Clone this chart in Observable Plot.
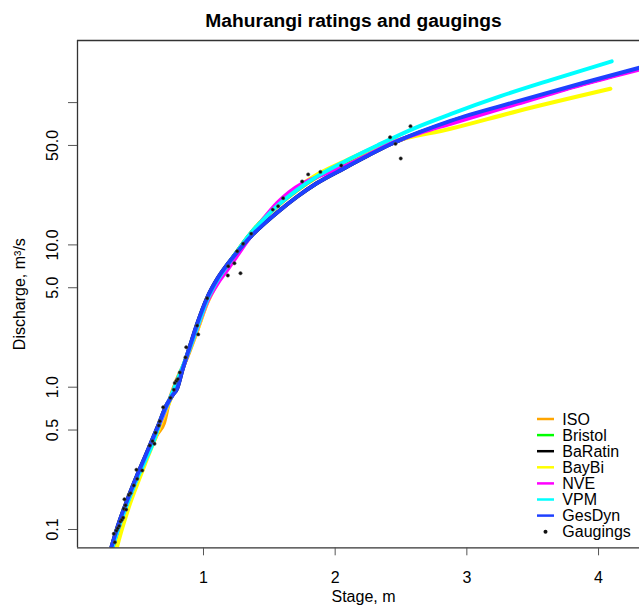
<!DOCTYPE html>
<html><head><meta charset="utf-8">
<script src="https://cdn.jsdelivr.net/npm/d3@7"></script>
<script src="https://cdn.jsdelivr.net/npm/@observablehq/plot@0.6"></script>
<style>
html,body{margin:0;padding:0;background:#fff;}
#chart{position:relative;width:639px;height:608px;overflow:hidden;}
#chart svg{display:block;}
.legend{position:absolute;left:0;top:0;pointer-events:none;}
</style></head><body><div id="chart"></div>
<script>
// ---- data ----
const titleText = "Mahurangi ratings and gaugings";
const xLabel = "Stage, m";
const yLabel = "Discharge, m\u00B3/s";
const xTicks = [1, 2, 3, 4];
const yTicks = [0.1, 0.5, 1, 5, 10, 50, 100];
const yTickLabels = ["0.1", "0.5", "1.0", "5.0", "10.0", "50.0", ""];
const xDomain = [0.0433, 4.311];
const yDomain = [0.07436, 273.2];

const seriesNames = ["ISO", "Bristol", "BaRatin", "BayBi", "NVE", "VPM", "GesDyn"];
const seriesColors = ["#FFA500", "#00FF00", "#000000", "#FFFF00", "#FF00FF", "#00FFFF", "#1E40FF"];

const iso = [[0.31,0.0735],[0.36,0.105],[0.42,0.15],[0.5,0.23],[0.58,0.34],[0.65,0.47],[0.70,0.56],[0.74,0.80],[0.80,1.14],[0.876,1.62],[0.952,2.5],[1.028,3.95],[1.104,5.5],[1.18,7.1],[1.256,9.0],[1.357,12.0],[1.458,15.2],[1.56,18.7],[1.711,24.2],[1.863,30],[2.066,37.8],[2.3,48],[2.45,55]];
const bristol = [[0.31,0.0735],[0.36,0.105],[0.42,0.152],[0.5,0.235],[0.58,0.35],[0.65,0.5],[0.75,0.84],[0.825,1.25],[0.876,1.66],[0.952,2.6],[1.028,4.1],[1.104,5.6],[1.18,7.15],[1.256,9.0],[1.357,12.0],[1.458,15.3],[1.56,18.9],[1.711,24.5],[1.863,30.3],[2.066,38],[2.3,48.5],[2.45,56.5]];
const baratin = [[0.298,0.0735],[0.35,0.106],[0.42,0.16],[0.5,0.245],[0.58,0.365],[0.65,0.52],[0.72,0.75],[0.765,0.88],[0.80,0.98],[0.84,1.32],[0.90,1.98],[0.952,2.78],[1.028,4.25],[1.104,5.75],[1.18,7.25],[1.256,8.9],[1.357,11.4],[1.458,14.0],[1.56,16.9],[1.711,21.8],[1.863,27.2],[2.066,34.5],[2.25,42.5],[2.42,51],[2.65,62],[2.876,73.5],[3.382,100.5],[3.888,136],[4.311,173.5]];
const baybi = [[0.34,0.0735],[0.38,0.1],[0.44,0.15],[0.5,0.212],[0.56,0.295],[0.63,0.43],[0.7,0.63],[0.78,0.97],[0.86,1.52],[0.952,2.5],[1.028,3.9],[1.104,5.4],[1.18,6.95],[1.256,8.85],[1.357,11.9],[1.458,15.3],[1.56,19.2],[1.711,25.2],[1.863,31.2],[2.066,38.5],[2.25,46],[2.42,52.5],[2.876,65.5],[3.382,87],[4.09,125]];
const nve = [[0.305,0.0735],[0.36,0.106],[0.42,0.152],[0.5,0.235],[0.58,0.345],[0.65,0.5],[0.72,0.73],[0.8,1.08],[0.876,1.66],[0.952,2.58],[1.028,3.98],[1.104,5.3],[1.18,6.65],[1.256,8.4],[1.357,11.5],[1.458,15.3],[1.56,19.7],[1.65,23.4],[1.75,27.0],[1.863,30.0],[2.066,35.6],[2.25,43],[2.42,51.5],[2.65,61.5],[2.876,71],[3.382,98],[3.888,135],[4.311,171]];
const vpm = [[0.305,0.0735],[0.357,0.104],[0.421,0.152],[0.484,0.215],[0.547,0.29],[0.623,0.42],[0.673,0.58],[0.75,0.85],[0.825,1.27],[0.876,1.67],[0.952,2.62],[1.028,4.1],[1.104,5.6],[1.18,7.15],[1.256,9.0],[1.357,12.0],[1.458,15.2],[1.56,18.8],[1.711,24.4],[1.863,30.3],[2.066,38.3],[2.32,50],[2.6,66],[2.876,83],[3.256,111],[3.636,144],[4.1,195]];
const gesdyn = [[0.298,0.0735],[0.35,0.106],[0.42,0.16],[0.5,0.245],[0.58,0.365],[0.65,0.52],[0.72,0.75],[0.765,0.88],[0.80,0.98],[0.84,1.32],[0.90,1.98],[0.952,2.78],[1.028,4.25],[1.104,5.75],[1.18,7.25],[1.256,8.9],[1.357,11.4],[1.458,14.0],[1.56,16.9],[1.711,21.8],[1.863,27.2],[2.066,34.5],[2.25,42.5],[2.42,51],[2.65,62.5],[2.876,74.5],[3.382,102],[3.888,138],[4.311,176]];
const seriesData = [iso, bristol, baratin, baybi, nve, vpm, gesdyn];

const gaugeStage = [0.319,0.327,0.339,0.349,0.360,0.370,0.380,0.390,0.395,0.408,0.413,0.400,0.433,0.446,0.471,0.497,0.491,0.535,0.592,0.613,0.628,0.636,0.661,0.668,0.694,0.749,0.775,0.782,0.795,0.805,0.820,0.863,0.869,0.952,0.960,1.028,1.185,1.188,1.235,1.256,1.281,1.301,1.362,1.526,1.567,1.605,1.749,1.795,1.888,2.046,2.417,2.458,2.572,2.498];
const gaugeQ = [0.0933,0.0814,0.0984,0.102,0.106,0.114,0.117,0.121,0.140,0.148,0.138,0.163,0.175,0.180,0.204,0.227,0.263,0.260,0.389,0.418,0.400,0.478,0.538,0.577,0.723,0.842,0.959,1.07,1.11,1.14,1.27,1.62,1.91,2.71,2.35,4.22,6.10,7.08,7.43,9.03,6.32,10.2,12.0,17.7,18.7,21.3,27.9,31.3,32.6,36.1,57.1,51.3,68.3,40.5];

// ---- build ----
const rows = [];
seriesNames.forEach((name, i) => seriesData[i].forEach(([s, q]) => rows.push({series: name, stage: s, q})));
const gaugings = gaugeStage.map((s, i) => ({stage: s, q: gaugeQ[i]}));
const yLabelMap = new Map(yTicks.map((t, i) => [t, yTickLabels[i]]));
const FONT = "'Liberation Sans', Arial, Helvetica, sans-serif";

const plot = Plot.plot({
  width: 639, height: 608,
  marginLeft: 77, marginRight: 0, marginTop: 40, marginBottom: 60.7,
  style: {fontFamily: FONT, fontSize: "16px", color: "#000", background: "#fff"},
  x: {domain: xDomain},
  y: {type: "log", domain: yDomain},
  color: {domain: seriesNames, range: seriesColors},
  marks: [
    Plot.line(rows, {x: "stage", y: "q", z: "series", stroke: "series", strokeWidth: 4, curve: "monotone-x", clip: true}),
    Plot.dot(gaugings, {x: "stage", y: "q", r: 1.7, fill: "#111", stroke: "#555", strokeWidth: 0.5}),
    Plot.ruleX([xDomain[0]], {stroke: "#333", strokeWidth: 1.3}),
    Plot.ruleY(yDomain, {stroke: "#333", strokeWidth: 1.3}),
    Plot.axisX({ticks: xTicks, tickFormat: d => String(d), tickSize: 8, tickPadding: 16, stroke: "#555", fontSize: 16, label: null}),
    Plot.axisY({ticks: yTicks, tickFormat: () => "", tickSize: 9, stroke: "#555", label: null}),
    Plot.text(yTicks, {y: d => d, text: d => yLabelMap.get(d), frameAnchor: "left", dx: -25, rotate: -90, textAnchor: "middle", lineAnchor: "middle", fontSize: 16}),
    Plot.text([titleText], {frameAnchor: "top", dx: -5, dy: -20, fontWeight: "bold", fontSize: 19.2, lineAnchor: "middle", textAnchor: "middle"}),
    Plot.text([xLabel], {frameAnchor: "bottom", dx: 5, dy: 49, fontSize: 16, lineAnchor: "middle", textAnchor: "middle"}),
    Plot.text([yLabel], {frameAnchor: "left", dx: -58, rotate: -90, fontSize: 16, lineAnchor: "middle", textAnchor: "middle"})
  ]
});
document.getElementById("chart").appendChild(plot);

// ---- legend (inside plot area, bottom right) ----
const legendItems = seriesNames.map((n, i) => ({label: n, color: seriesColors[i], kind: "line"}))
  .concat([{label: "Gaugings", color: "#111", kind: "dot"}]);
const lg = d3.select("#chart").append("svg").attr("class", "legend")
  .attr("width", 639).attr("height", 608)
  .style("font-family", FONT).style("font-size", "16px");
const row = d3.scaleLinear().domain([0, legendItems.length - 1]).range([419, 531.7]);
const g = lg.selectAll("g").data(legendItems).join("g")
  .attr("transform", (d, i) => `translate(537,${row(i)})`);
g.filter(d => d.kind === "line").append("line")
  .attr("x1", 0).attr("x2", 17).attr("stroke", d => d.color).attr("stroke-width", 2.5);
g.filter(d => d.kind === "dot").append("circle")
  .attr("cx", 8.5).attr("r", 2).attr("fill", d => d.color);
g.append("text").attr("x", 25.3).attr("dy", "0.35em").text(d => d.label);
</script></body></html>
